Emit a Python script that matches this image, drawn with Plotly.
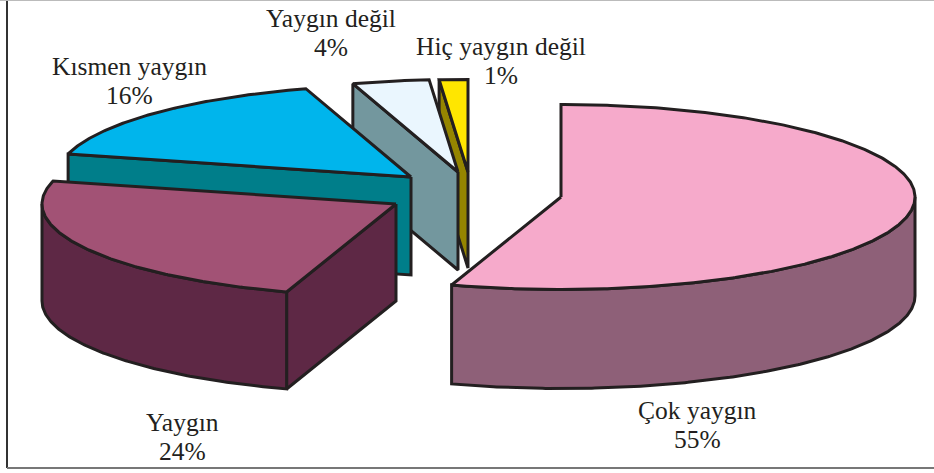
import numpy as np
import plotly.graph_objects as go

categories = ["Çok yaygın", "Yaygın", "Kısmen yaygın", "Yaygın değil", "Hiç yaygın değil"]
values = [55.0, 24.0, 16.2, 3.5, 1.3]

# styling / layout (pixel space of the 934x473 page)
top_colors = ["#F6AACB", "#A25275", "#00B5EC", "#EAF6FE", "#FFE600"]
wall_colors = ["#8E6078", "#5E2845", "#007E8A", "#73979E", "#958500"]
centers = [(561, 197), (396, 204), (411, 177), (458, 172), (468, 172)]
depths = [99, 97, 98, 98, 96]
label_pos = [(697, 425), (182, 437), (129, 81), (331, 33), (501, 61)]
RX, RY = 354, 92.5
INK = "#231F20"
LW = 3
LINE_GAP = 14.5

total = sum(values)
ends = np.cumsum(values) / total * 360
starts = np.concatenate([[0], ends[:-1]])


def rim(c, a0, a1, dz=0.0):
    t = np.radians(np.linspace(a0, a1, max(int(abs(a1 - a0) * 2), 2) + 1))
    return c[0] + RX * np.sin(t), c[1] - RY * np.cos(t) + dz


fig = go.Figure()


def poly(xs, ys, fill):
    fig.add_trace(go.Scatter(
        x=list(xs) + [xs[0]], y=list(ys) + [ys[0]], mode="lines", fill="toself",
        fillcolor=fill, line=dict(color=INK, width=LW), hoverinfo="skip", showlegend=False))


# painter's order: from the smallest, rear slice to the front one
for i in [4, 3, 2, 1, 0]:
    c, d, a0, a1 = centers[i], depths[i], starts[i], ends[i]
    # cut wall at the start angle, facing the viewer for the left half
    if 180 <= a0 < 360:
        rx0, ry0 = rim(c, a0, a0 + 0.01)
        poly([c[0], rx0[0], rx0[0], c[0]], [c[1], ry0[0], ry0[0] + d, c[1] + d], wall_colors[i])
    # outer wall: only the front half of the ellipse is seen
    f0, f1 = max(a0, 90), min(a1, 270)
    if f1 > f0:
        tx, ty = rim(c, f0, f1)
        bx, by = rim(c, f0, f1, d)
        poly(np.concatenate([tx, bx[::-1]]), np.concatenate([ty, by[::-1]]), wall_colors[i])
    # top face
    tx, ty = rim(c, a0, a1)
    poly(np.concatenate([[c[0]], tx]), np.concatenate([[c[1]], ty]), top_colors[i])

for i, cat in enumerate(categories):
    for text, off in ((cat, -LINE_GAP), (f"{round(values[i])}%", LINE_GAP)):
        fig.add_annotation(x=label_pos[i][0], y=label_pos[i][1] + off, text=text,
                           showarrow=False, xanchor="center", yanchor="middle",
                           font=dict(family="Liberation Serif", size=25.5, color=INK))

frame = [((7, 0), (7, 468), "#333333", 2), ((7, 468), (934, 468), "#777777", 2), ((0, 0), (934, 0), "#BBBBBB", 2)]
for (a, b, col, w) in frame:
    fig.add_shape(type="line", x0=a[0], y0=a[1], x1=b[0], y1=b[1], line=dict(color=col, width=w))

fig.update_layout(
    width=934, height=473, margin=dict(l=0, r=0, t=0, b=0),
    paper_bgcolor="white", plot_bgcolor="white",
    xaxis=dict(range=[0, 934], visible=False, fixedrange=True),
    yaxis=dict(range=[473, 0], visible=False, fixedrange=True),
)
fig.write_html("out.html", config={"displayModeBar": False},
               post_script="document.body.style.margin='0';document.documentElement.style.overflow='hidden';")
